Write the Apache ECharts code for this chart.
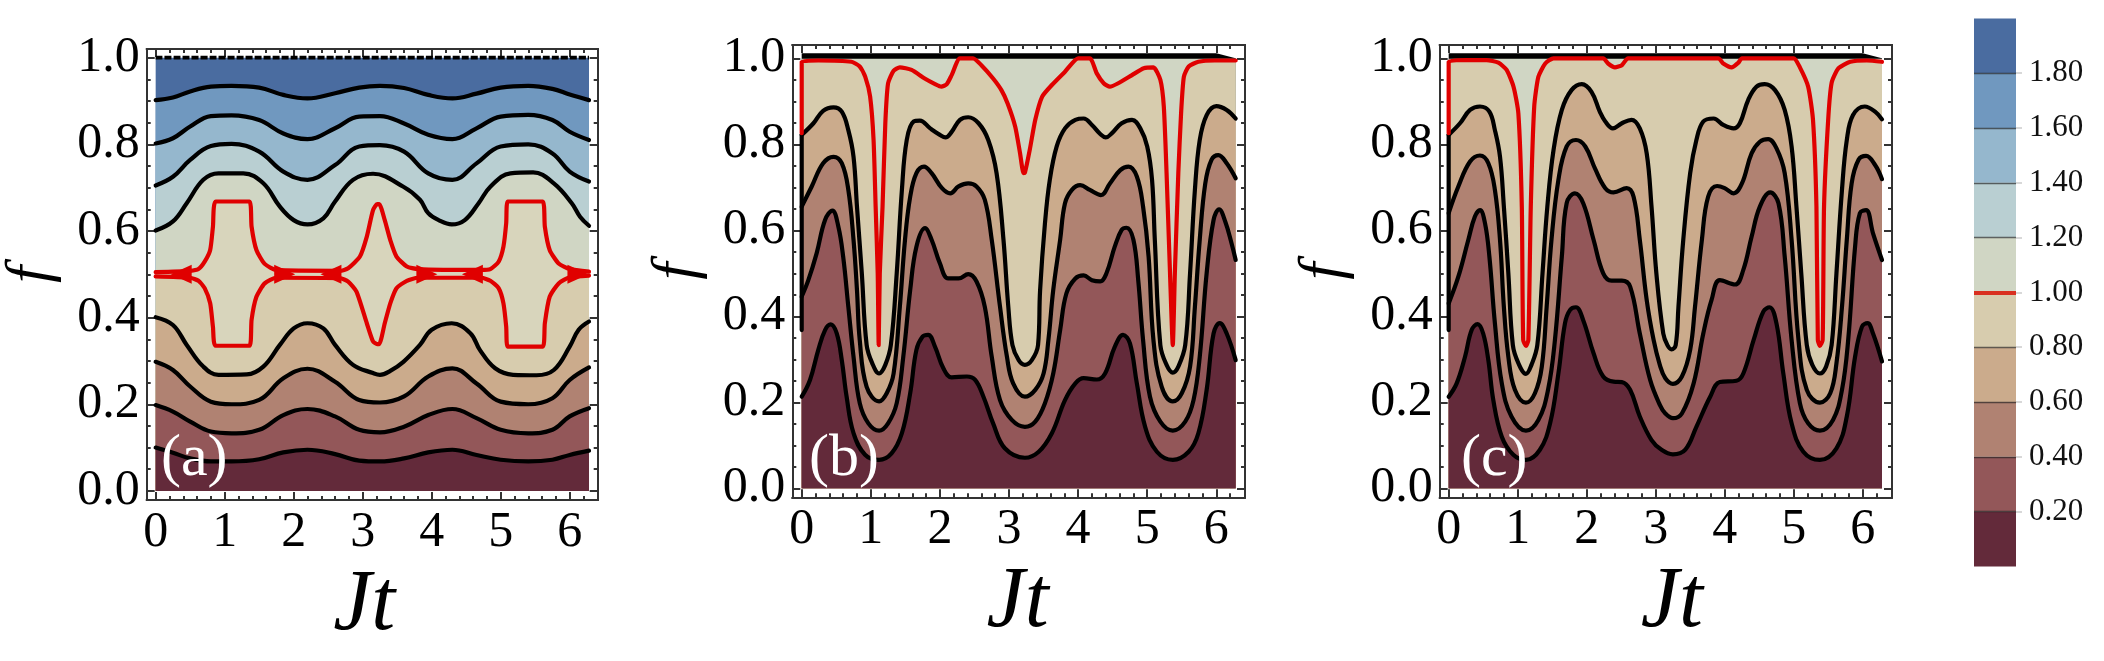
<!DOCTYPE html>
<html>
<head>
<meta charset="utf-8">
<title>Contours of f against Jt</title>
<script src="https://cdn.jsdelivr.net/npm/echarts@6/dist/echarts.min.js"></script>
<style>
  html, body { margin: 0; background: #fff; }
  #main { width: 2104px; height: 661px; }
</style>
</head>
<body>
<div id="main"></div>
<script>
// ---- values, [Jt, f] ----
const aTop = [[0,1],[6.28,1]];
const aC9 = [[0,.902],[.25,.908],[.5,.922],[.8,.933],[1.1,.935],[1.5,.931],[1.85,.914],[2.2,.906],[2.6,.918],[2.95,.931],[3.25,.935],[3.6,.93],[3.95,.914],[4.3,.906],[4.65,.917],[5,.931],[5.4,.935],[5.75,.928],[6,.915],[6.28,.902]];
const aC8 = [[0,.802],[.25,.814],[.5,.841],[.8,.865],[1.1,.867],[1.5,.856],[1.85,.825],[2.2,.812],[2.6,.837],[2.95,.864],[3.25,.865],[3.6,.848],[3.95,.822],[4.3,.812],[4.65,.837],[5,.864],[5.4,.868],[5.75,.856],[6,.829],[6.28,.81]];
const aC7 = [[0,.705],[.25,.725],[.5,.764],[.8,.796],[1.1,.801],[1.5,.783],[1.85,.737],[2.2,.718],[2.6,.752],[2.95,.795],[3.25,.798],[3.6,.783],[3.95,.733],[4.3,.718],[4.65,.756],[5,.795],[5.4,.8],[5.75,.779],[6,.737],[6.28,.714]];
const aC6 = [[0,.601],[.25,.622],[.45,.664],[.69,.718],[.91,.733],[1.27,.733],[1.56,.71],[1.8,.656],[2,.625],[2.2,.615],[2.43,.629],[2.6,.668],[2.86,.718],[3.15,.732],[3.59,.702],[3.83,.672],[3.95,.641],[4.1,.625],[4.29,.615],[4.48,.625],[4.68,.664],[4.85,.702],[5.14,.733],[5.47,.735],[5.77,.71],[6.03,.664],[6.15,.633],[6.28,.612]];
const aRedUp = [[0,.505],[.5,.508],[.62,.512],[.71,.529],[.79,.556],[.83,.61],[.87,.668],[1.36,.668],[1.39,.61],[1.46,.556],[1.58,.524],[1.75,.51],[2.67,.508],[2.79,.514],[2.96,.541],[3.06,.587],[3.15,.648],[3.21,.662],[3.24,.662],[3.32,.625],[3.4,.579],[3.49,.541],[3.64,.518],[3.8,.512],[4.72,.51],[4.85,.512],[4.97,.529],[5.04,.564],[5.08,.618],[5.1,.668],[5.61,.668],[5.64,.61],[5.71,.556],[5.84,.525],[6,.512],[6.28,.506]];
const aRedLow = [[0,.495],[.5,.492],[.62,.485],[.71,.468],[.79,.433],[.83,.379],[.87,.335],[1.36,.335],[1.39,.395],[1.46,.448],[1.58,.479],[1.75,.492],[2.67,.491],[2.79,.483],[2.91,.46],[3.06,.387],[3.15,.345],[3.21,.339],[3.24,.339],[3.32,.387],[3.4,.433],[3.49,.468],[3.64,.485],[3.8,.492],[4.72,.492],[4.85,.485],[4.97,.468],[5.04,.433],[5.08,.379],[5.1,.333],[5.61,.333],[5.64,.387],[5.71,.448],[5.84,.479],[6,.493],[6.28,.497]];
const aArrowX = [.37,1.87,2.54,3.93,4.59,6.12];
const aArrowTurn = [90,-90,90,-90,90,-90];
const aC4 = [[0,.401],[.25,.383],[.45,.337],[.69,.287],[.91,.268],[1.32,.269],[1.56,.287],[1.8,.337],[2,.375],[2.2,.387],[2.43,.375],[2.6,.337],[2.86,.291],[3.15,.272],[3.25,.268],[3.4,.277],[3.59,.298],[3.83,.337],[4,.372],[4.29,.387],[4.56,.364],[4.7,.325],[4.92,.283],[5.18,.268],[5.52,.267],[5.77,.279],[6,.333],[6.13,.372],[6.28,.391]];
const aC3 = [[0,.298],[.25,.279],[.5,.241],[.8,.206],[1.1,.2],[1.5,.21],[1.85,.26],[2.2,.282],[2.6,.252],[2.95,.21],[3.25,.204],[3.6,.218],[3.95,.264],[4.3,.283],[4.65,.248],[5,.206],[5.4,.2],[5.75,.214],[6,.256],[6.28,.285]];
const aC2 = [[0,.198],[.25,.183],[.5,.16],[.8,.137],[1.1,.133],[1.5,.141],[1.85,.175],[2.2,.189],[2.6,.172],[2.95,.141],[3.25,.135],[3.6,.148],[3.95,.175],[4.3,.189],[4.65,.168],[5,.141],[5.4,.133],[5.75,.141],[6,.172],[6.28,.191]];
const aC1 = [[0,.1],[.25,.088],[.5,.075],[.8,.068],[1.1,.068],[1.5,.073],[1.85,.089],[2.2,.095],[2.6,.085],[2.95,.07],[3.25,.068],[3.6,.075],[3.95,.089],[4.3,.095],[4.65,.083],[5,.072],[5.4,.068],[5.75,.072],[6,.083],[6.28,.093]];

const topBar = [[0,1.012],[6,1.012],[6.28,1]];
const topEdge = [[0,.999],[6.28,.999]];
const leftEdge = [[0,.368],[0,.822]];

const bRed = [[0,.826],[0,.992],[.24,.995],[.72,.992],[.84,.981],[.92,.957],[.99,.911],[1.04,.81],[1.07,.655],[1.1,.5],[1.114,.333],[1.13,.5],[1.17,.655],[1.21,.849],[1.25,.942],[1.33,.971],[1.42,.979],[1.59,.973],[1.78,.953],[1.93,.94],[2.02,.934],[2.1,.94],[2.17,.961],[2.29,1],[2.48,1],[2.6,.984],[2.77,.953],[2.89,.926],[2.98,.895],[3.09,.841],[3.16,.779],[3.21,.733],[3.23,.734],[3.3,.787],[3.38,.857],[3.48,.911],[3.62,.938],[3.81,.969],[4,1],[4.17,1],[4.27,.965],[4.37,.942],[4.46,.934],[4.58,.942],[4.78,.961],[4.95,.977],[5.09,.979],[5.19,.95],[5.24,.888],[5.28,.733],[5.33,.5],[5.37,.333],[5.4,.5],[5.45,.733],[5.49,.872],[5.53,.957],[5.6,.981],[5.74,.992],[5.98,.995],[6.28,.995]];
const bC1 = [[0,.822],[.17,.849],[.31,.878],[.46,.886],[.58,.876],[.675,.833],[.75,.771],[.8,.655],[.87,.5],[.94,.333],[1.02,.291],[1.12,.267],[1.21,.287],[1.29,.333],[1.375,.5],[1.45,.694],[1.52,.81],[1.62,.853],[1.71,.855],[1.86,.837],[2,.822],[2.08,.816],[2.17,.829],[2.29,.857],[2.41,.863],[2.56,.849],[2.7,.81],[2.82,.733],[2.92,.578],[2.99,.422],[3.05,.333],[3.14,.298],[3.23,.287],[3.33,.298],[3.42,.333],[3.45,.461],[3.52,.616],[3.59,.717],[3.69,.795],[3.81,.837],[3.96,.857],[4.08,.86],[4.2,.845],[4.32,.824],[4.4,.816],[4.49,.826],[4.63,.849],[4.78,.857],[4.9,.837],[5,.795],[5.07,.717],[5.11,.578],[5.19,.333],[5.28,.287],[5.37,.269],[5.45,.283],[5.55,.333],[5.62,.5],[5.69,.694],[5.76,.81],[5.86,.868],[6,.889],[6.15,.88],[6.28,.86]];
const bC2 = [[0,.655],[.145,.702],[.31,.756],[.46,.771],[.58,.756],[.675,.694],[.75,.578],[.8,.461],[.84,.345],[.94,.236],[1.12,.202],[1.23,.221],[1.33,.267],[1.42,.422],[1.495,.578],[1.57,.678],[1.66,.733],[1.77,.748],[1.88,.733],[2.03,.698],[2.15,.686],[2.27,.702],[2.41,.709],[2.53,.702],[2.65,.671],[2.75,.578],[2.87,.422],[2.97,.306],[3.06,.244],[3.23,.213],[3.38,.229],[3.5,.267],[3.57,.345],[3.64,.461],[3.74,.578],[3.81,.663],[3.91,.694],[4.03,.705],[4.17,.694],[4.33,.682],[4.46,.709],[4.61,.74],[4.73,.748],[4.85,.725],[4.94,.655],[5.02,.539],[5.09,.345],[5.21,.236],[5.37,.202],[5.5,.221],[5.62,.283],[5.69,.422],[5.76,.578],[5.84,.709],[5.93,.764],[6.03,.775],[6.15,.756],[6.28,.721]];
const bC3 = [[0,.446],[.096,.484],[.217,.547],[.338,.624],[.444,.646],[.53,.609],[.6,.539],[.675,.422],[.75,.306],[.84,.198],[.965,.151],[1.12,.134],[1.25,.151],[1.375,.198],[1.47,.306],[1.57,.461],[1.66,.562],[1.785,.605],[1.88,.578],[2,.523],[2.12,.488],[2.27,.488],[2.41,.498],[2.53,.481],[2.65,.422],[2.75,.306],[2.87,.205],[3.04,.159],[3.23,.143],[3.38,.155],[3.52,.198],[3.64,.267],[3.74,.368],[3.83,.453],[3.96,.488],[4.08,.495],[4.2,.484],[4.32,.481],[4.41,.5],[4.53,.562],[4.63,.601],[4.7,.606],[4.8,.578],[4.87,.484],[4.94,.345],[5.04,.213],[5.19,.155],[5.37,.134],[5.55,.155],[5.67,.205],[5.76,.306],[5.86,.5],[5.96,.624],[6.04,.649],[6.13,.62],[6.22,.57],[6.28,.531]];
const bC4 = [[0,.213],[.12,.252],[.24,.322],[.338,.368],[.42,.381],[.507,.36],[.58,.298],[.65,.213],[.75,.128],[.917,.078],[1.12,.066],[1.3,.081],[1.45,.128],[1.57,.221],[1.66,.322],[1.75,.353],[1.83,.357],[1.93,.329],[2.05,.279],[2.17,.258],[2.39,.26],[2.51,.252],[2.63,.213],[2.77,.151],[2.94,.093],[3.23,.071],[3.43,.085],[3.62,.128],[3.81,.205],[3.96,.244],[4.08,.256],[4.27,.253],[4.39,.267],[4.53,.329],[4.65,.357],[4.75,.337],[4.85,.244],[4.97,.143],[5.14,.085],[5.37,.066],[5.6,.085],[5.74,.128],[5.86,.229],[5.96,.36],[6.05,.384],[6.15,.36],[6.28,.298]];

const cRed = [[0,.826],[0,.992],[.26,.996],[.55,.996],[.72,.99],[.84,.973],[.94,.934],[1.01,.872],[1.06,.655],[1.08,.345],[1.12,.331],[1.155,.345],[1.19,.655],[1.24,.888],[1.3,.957],[1.4,.988],[1.52,1],[2.24,1],[2.31,.988],[2.41,.979],[2.51,.984],[2.6,1],[3.91,1],[3.98,.988],[4.1,.979],[4.2,.99],[4.25,1],[5,1],[5.09,.979],[5.21,.934],[5.28,.857],[5.33,.655],[5.35,.345],[5.38,.331],[5.42,.345],[5.44,.655],[5.5,.857],[5.55,.943],[5.65,.977],[5.82,.992],[6.06,.995],[6.28,.992]];
const cC1 = [[0,.822],[.164,.849],[.31,.88],[.454,.888],[.59,.876],[.67,.833],[.744,.771],[.8,.655],[.865,.5],[.93,.333],[1.01,.291],[1.12,.266],[1.2,.287],[1.285,.333],[1.36,.5],[1.43,.655],[1.52,.787],[1.64,.88],[1.78,.926],[1.93,.94],[2.07,.922],[2.19,.876],[2.27,.853],[2.38,.837],[2.51,.849],[2.65,.857],[2.77,.837],[2.87,.779],[2.94,.655],[3.01,.5],[3.11,.36],[3.17,.333],[3.23,.323],[3.29,.333],[3.33,.422],[3.4,.578],[3.5,.733],[3.59,.81],[3.69,.853],[3.84,.86],[3.98,.845],[4.13,.837],[4.22,.849],[4.34,.903],[4.46,.934],[4.58,.94],[4.73,.926],[4.87,.88],[4.97,.795],[5.04,.655],[5.11,.5],[5.19,.333],[5.27,.287],[5.38,.267],[5.47,.283],[5.55,.333],[5.62,.5],[5.7,.694],[5.77,.81],[5.86,.868],[6.03,.888],[6.18,.876],[6.28,.858]];
const cC2 = [[0,.64],[.14,.702],[.31,.76],[.454,.774],[.575,.756],[.67,.694],[.744,.578],[.8,.422],[.865,.306],[.96,.229],[1.12,.199],[1.25,.221],[1.35,.283],[1.42,.422],[1.49,.578],[1.59,.717],[1.71,.795],[1.845,.81],[1.98,.795],[2.12,.744],[2.27,.698],[2.39,.688],[2.58,.698],[2.68,.678],[2.77,.578],[2.87,.438],[2.97,.345],[3.06,.287],[3.14,.256],[3.25,.243],[3.38,.26],[3.5,.322],[3.57,.422],[3.67,.578],[3.76,.678],[3.89,.703],[4,.698],[4.13,.686],[4.25,.709],[4.39,.779],[4.51,.806],[4.63,.812],[4.75,.791],[4.87,.733],[4.97,.578],[5.07,.345],[5.19,.229],[5.38,.199],[5.53,.221],[5.62,.291],[5.7,.422],[5.77,.578],[5.84,.709],[5.94,.764],[6.05,.773],[6.18,.752],[6.28,.719]];
const cC3 = [[0,.43],[.14,.492],[.285,.578],[.38,.632],[.454,.647],[.527,.616],[.59,.539],[.67,.384],[.77,.244],[.91,.167],[1.12,.134],[1.3,.159],[1.44,.229],[1.54,.345],[1.64,.539],[1.71,.663],[1.83,.686],[1.95,.663],[2.1,.578],[2.24,.5],[2.36,.483],[2.51,.483],[2.63,.469],[2.77,.36],[2.92,.252],[3.06,.194],[3.14,.174],[3.25,.163],[3.38,.174],[3.55,.244],[3.69,.36],[3.81,.438],[3.93,.484],[4.15,.474],[4.27,.508],[4.39,.585],[4.51,.655],[4.66,.688],[4.78,.663],[4.87,.539],[4.97,.345],[5.09,.198],[5.21,.151],[5.38,.134],[5.57,.159],[5.7,.229],[5.79,.345],[5.89,.562],[5.96,.64],[6.05,.647],[6.15,.593],[6.28,.531]];
const cC4 = [[0,.213],[.116,.244],[.237,.306],[.333,.368],[.42,.382],[.5,.36],[.575,.298],[.647,.205],[.77,.12],[.937,.078],[1.12,.066],[1.32,.089],[1.47,.151],[1.59,.267],[1.686,.384],[1.76,.415],[1.845,.421],[1.95,.391],[2.1,.314],[2.24,.26],[2.39,.248],[2.51,.247],[2.63,.229],[2.77,.167],[2.94,.112],[3.08,.09],[3.25,.079],[3.43,.09],[3.59,.143],[3.79,.213],[3.93,.247],[4.17,.25],[4.27,.267],[4.42,.345],[4.56,.411],[4.65,.421],[4.75,.384],[4.85,.267],[4.97,.151],[5.14,.085],[5.38,.066],[5.62,.093],[5.77,.167],[5.89,.306],[5.99,.376],[6.07,.384],[6.15,.36],[6.28,.295]];

const xTicks = [0,1,2,3,4,5,6];
const xMinorTicks = [.2,.4,.6,.8,1.2,1.4,1.6,1.8,2.2,2.4,2.6,2.8,3.2,3.4,3.6,3.8,4.2,4.4,4.6,4.8,5.2,5.4,5.6,5.8,6.2];
const yTicks = [0,.2,.4,.6,.8,1];
const yMinorTicks = [.05,.1,.15,.25,.3,.35,.45,.5,.55,.65,.7,.75,.85,.9,.95];

const barTicks = [.2,.4,.6,.8,1,1.2,1.4,1.6,1.8];
const barSteps = [.2,.2,.2,.2,.2,.2,.2,.2,.2,.2];
const bandColors = ['#632a3a','#935759','#b08272','#cbab8c','#d7ccae','#d0d6c4','#b9cfd2','#95b7cd','#7098bf','#4a6ca0'];

const serif = '"Liberation Serif"';
const black = '#000';
const red = '#e00000';
const frame = '#333';

// one grid per panel, with separate axes for the long and the short ticks
const panels = [
  { label: '(a)', grid: { left: 146.7, top: 49, width: 451, height: 451 }, xMin: -.13, xMax: 6.406, yMin: -.021, yMax: 1.02, labelLeft: 156, namePad: [0, 16, 0, 0] },
  { label: '(b)', grid: { left: 792.3, top: 45, width: 452.7, height: 452.3 }, xMin: -.136, xMax: 6.415, yMin: -.021, yMax: 1.031, labelLeft: 804, namePad: [0, 2, 0, 0] },
  { label: '(c)', grid: { left: 1439.7, top: 45, width: 452.3, height: 452.3 }, xMin: -.13, xMax: 6.425, yMin: -.021, yMax: 1.031, labelLeft: 1456, namePad: [0, 0, 0, 12] }
];

const grid = [], xAxis = [], yAxis = [], series = [], title = [];

function plainAxis(gridIndex, min, max, position, values, tickLen, extra) {
  return Object.assign({
    type: 'value', gridIndex, min, max, position,
    splitLine: { show: false },
    axisLine: { show: true, onZero: false, lineStyle: { color: frame, width: 2 } },
    axisTick: { show: true, inside: true, length: tickLen, customValues: values, lineStyle: { color: frame, width: 2 } },
    axisLabel: { show: false }
  }, extra);
}

function contour(p, data, fill, line, extra) {
  return Object.assign({
    type: 'line', data, xAxisIndex: p * 4, yAxisIndex: p * 4,
    symbol: 'none', smooth: .4, animation: false, silent: true,
    lineStyle: line ? { color: line, width: 4.2, cap: 'round', join: 'round' } : { width: 0 },
    areaStyle: fill ? { color: fill, opacity: 1, origin: 0 } : undefined
  }, extra);
}

panels.forEach((p, i) => {
  grid.push(Object.assign({ outerBoundsMode: 'none' }, p.grid));
  xAxis.push(
    plainAxis(i, p.xMin, p.xMax, 'bottom', xTicks, 8, {
      name: 'Jt', nameLocation: 'middle', nameGap: 60,
      nameTextStyle: { fontFamily: serif, fontStyle: 'italic', fontSize: 86, color: black, padding: p.namePad },
      axisLabel: { show: true, customValues: xTicks, fontFamily: serif, fontSize: 50, color: black, margin: 8 }
    }),
    plainAxis(i, p.xMin, p.xMax, 'top', xTicks, 8),
    plainAxis(i, p.xMin, p.xMax, 'bottom', xMinorTicks, 4),
    plainAxis(i, p.xMin, p.xMax, 'top', xMinorTicks, 4)
  );
  yAxis.push(
    plainAxis(i, p.yMin, p.yMax, 'left', yTicks, 8, {
      name: 'f', nameLocation: 'middle', nameGap: 84,
      nameTextStyle: { fontFamily: serif, fontStyle: 'italic', fontSize: 62, color: black },
      axisLabel: { show: true, customValues: yTicks, formatter: v => v.toFixed(1), fontFamily: serif, fontSize: 50, color: black, margin: 7 }
    }),
    plainAxis(i, p.yMin, p.yMax, 'right', yTicks, 8),
    plainAxis(i, p.yMin, p.yMax, 'left', yMinorTicks, 4),
    plainAxis(i, p.yMin, p.yMax, 'right', yMinorTicks, 4)
  );
  title.push({
    text: p.label, left: p.labelLeft, top: 424,
    textStyle: { fontFamily: serif, fontWeight: 'normal', fontSize: 60, color: '#fff' }
  });
});

// panel (a)
series.push(
  contour(0, aTop, bandColors[9], black, { lineStyle: { color: black, width: 3.6, type: [7, 2] } }),
  contour(0, aC9, bandColors[8], black),
  contour(0, aC8, bandColors[7], black),
  contour(0, aC7, bandColors[6], black),
  contour(0, aC6, bandColors[5], black),
  contour(0, aRedUp, '#d8d5bc', red, { smooth: .2 }),
  contour(0, aRedLow, bandColors[4], red, { smooth: .2 }),
  contour(0, aC4, bandColors[3], black),
  contour(0, aC3, bandColors[2], black),
  contour(0, aC2, bandColors[1], black),
  contour(0, aC1, bandColors[0], black),
  {
    type: 'scatter', xAxisIndex: 0, yAxisIndex: 0, animation: false, silent: true, z: 3,
    symbol: 'triangle', symbolSize: [19, 21], itemStyle: { color: red, opacity: 1 },
    data: aArrowX.map((x, i) => ({ value: [x, .5], symbolRotate: aArrowTurn[i] }))
  }
);

// panels (b) and (c) share their layering
[[1, bRed, bC1, bC2, bC3, bC4], [2, cRed, cC1, cC2, cC3, cC4]].forEach(([p, r, c1, c2, c3, c4]) => {
  series.push(
    contour(p, topBar, black, null, { smooth: false }),
    contour(p, topEdge, bandColors[5], null, { smooth: false }),
    contour(p, r, bandColors[4], null, { smooth: .2 }),
    contour(p, c1, bandColors[3], black),
    contour(p, c2, bandColors[2], black),
    contour(p, c3, bandColors[1], black),
    contour(p, c4, bandColors[0], black),
    contour(p, leftEdge, null, black, { smooth: false }),
    contour(p, r, null, red, { smooth: .2 })
  );
});

// colour bar
grid.push({ outerBoundsMode: 'none', left: 1974, top: 18.4, width: 42, height: 548 });
xAxis.push({ type: 'category', gridIndex: 3, data: ['f'], show: false });
yAxis.push({
  type: 'value', gridIndex: 3, min: 0, max: 2, position: 'right',
  splitLine: { show: false },
  axisLine: { show: false },
  axisTick: { show: true, length: 6, customValues: barTicks, lineStyle: { color: '#ccc', width: 1.5 } },
  axisLabel: { show: true, customValues: barTicks, formatter: v => v.toFixed(2), fontFamily: serif, fontSize: 31, color: '#111', margin: 13 }
});
barSteps.forEach((step, i) => {
  series.push({
    type: 'bar', xAxisIndex: 12, yAxisIndex: 12, stack: 'bar', barWidth: '100%', animation: false, silent: true,
    itemStyle: { color: bandColors[i] },
    data: [step]
  });
});
series.push({
  type: 'line', xAxisIndex: 12, yAxisIndex: 12, data: [], animation: false, silent: true,
  markLine: {
    silent: true, symbol: 'none', animation: false, label: { show: false },
    lineStyle: { color: 'rgba(30,30,30,.65)', width: 1.4, type: 'solid' },
    data: barTicks.map(v => v === 1
      ? { yAxis: v, lineStyle: { color: '#d93020', width: 4, type: 'solid' } }
      : { yAxis: v })
  }
});

const chart = echarts.init(document.getElementById('main'));
chart.setOption({ animation: false, backgroundColor: '#fff', title, grid, xAxis, yAxis, series });
</script>
</body>
</html>
